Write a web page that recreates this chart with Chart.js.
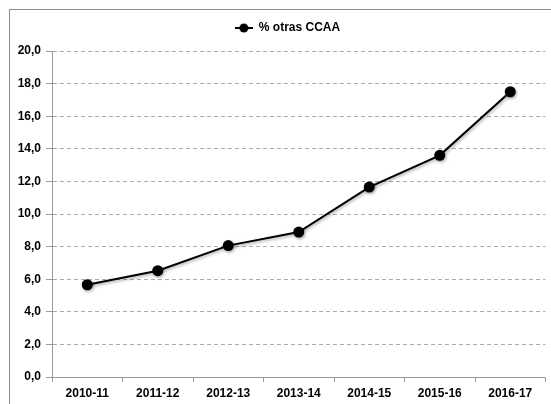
<!DOCTYPE html>
<html>
<head>
<meta charset="utf-8">
<script src="https://cdn.jsdelivr.net/npm/chart.js@4"></script>
<style>
  html, body { margin: 0; padding: 0; background: #fff; }
</style>
</head>
<body>
<canvas id="grafico" width="551" height="404"></canvas>
<script>
// ===========================
// Datos
// ===========================
const cursos = ["2010-11", "2011-12", "2012-13", "2013-14", "2014-15", "2015-16", "2016-17"];
const pctOtrasCCAA = [5.66, 6.52, 8.06, 8.89, 11.65, 13.6, 17.5];
const ticksY = [0, 2, 4, 6, 8, 10, 12, 14, 16, 18, 20];
const nombreSerie = "% otras CCAA";

const fuente = { family: "'Liberation Sans', Arial, sans-serif", size: 12, weight: "bold" };
const gris = "#9a9a9a";

// marcador de la leyenda: linea con punto
const marcador = document.createElement("canvas");
marcador.width = 18;
marcador.height = 12;
(function () {
  const c = marcador.getContext("2d");
  c.strokeStyle = "#000";
  c.lineWidth = 2;
  c.beginPath();
  c.moveTo(0, 6);
  c.lineTo(18, 6);
  c.stroke();
  c.fillStyle = "#000";
  c.beginPath();
  c.arc(9, 6, 4.5, 0, Math.PI * 2);
  c.fill();
})();

// ===========================
// Plugins
// ===========================
const marco = {
  id: "marco",
  beforeInit(chart) {
    const fitOrig = chart.legend.fit;
    chart.legend.fit = function () {
      fitOrig.call(this);
      this.height = 51;
    };
  },
  afterLayout(chart) {
    chart.legend.left += 12;
    chart.legend.right += 12;
  },
  beforeDraw(chart) {
    const ctx = chart.ctx;
    ctx.save();
    ctx.fillStyle = "#fff";
    ctx.fillRect(0, 0, chart.width, chart.height);
    ctx.strokeStyle = "#8c8c8c";
    ctx.lineWidth = 1;
    ctx.strokeRect(9.5, 9.5, 700, 700);
    ctx.restore();
  },
  beforeDatasetsDraw(chart) {
    const ctx = chart.ctx;
    ctx.save();
    ctx.shadowColor = "rgba(0,0,0,0.35)";
    ctx.shadowBlur = 3;
    ctx.shadowOffsetX = 1;
    ctx.shadowOffsetY = 1.5;
  },
  afterDatasetsDraw(chart) {
    chart.ctx.restore();
  }
};

// ===========================
// Grafico
// ===========================
new Chart(document.getElementById("grafico"), {
  type: "line",
  data: {
    labels: cursos,
    datasets: [{
      label: nombreSerie,
      data: pctOtrasCCAA,
      borderColor: "#000",
      backgroundColor: "#000",
      borderWidth: 2,
      pointRadius: 5.5,
      pointHoverRadius: 5.5,
      pointBackgroundColor: "#000",
      pointBorderWidth: 0,
      tension: 0,
      fill: false
    }]
  },
  options: {
    responsive: false,
    animation: false,
    devicePixelRatio: 1,
    layout: { padding: 0 },
    plugins: {
      tooltip: { enabled: false },
      legend: {
        display: true,
        position: "top",
        labels: {
          usePointStyle: true,
          pointStyle: marcador,
          pointStyleWidth: 18,
          padding: 22,
          color: "#000",
          font: fuente
        }
      }
    },
    scales: {
      x: {
        offset: true,
        grid: {
          display: true,
          drawOnChartArea: false,
          drawTicks: true,
          tickLength: 5,
          tickColor: gris,
          offset: true
        },
        border: { display: true, color: gris, width: 1 },
        ticks: { color: "#000", font: fuente, padding: 4, maxRotation: 0 },
        afterFit(scale) { scale.height = 27; }
      },
      y: {
        min: 0,
        max: 20,
        afterBuildTicks(scale) { scale.ticks = ticksY.map(v => ({ value: v })); },
        grid: {
          color: "#ababab",
          lineWidth: 1,
          drawTicks: true,
          tickLength: 6,
          tickColor: gris,
          tickBorderDash: []
        },
        border: { display: true, color: gris, width: 1, dash: [4, 3] },
        ticks: {
          color: "#000",
          font: fuente,
          padding: 5,
          callback: v => v.toFixed(1).replace(".", ",")
        },
        afterFit(scale) { scale.width = 52; }
      }
    }
  },
  plugins: [marco]
});
</script>
</body>
</html>
